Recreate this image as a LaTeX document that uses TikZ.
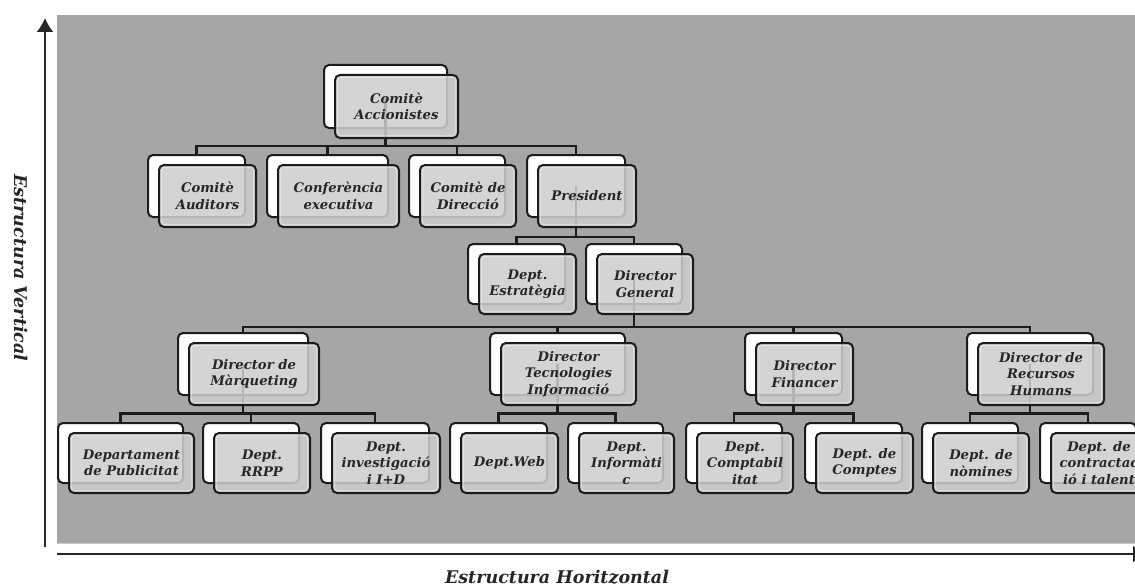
\documentclass[tikz,border=0pt]{standalone}
\usepackage{fontspec}
\setmainfont{DejaVu Serif}
\usetikzlibrary{arrows.meta,calc}
\definecolor{panelgray}{HTML}{A6A6A6}
\definecolor{boxline}{HTML}{1C1C1C}
\definecolor{frontfill}{HTML}{CDCDCD}
\definecolor{inktext}{HTML}{262626}
\tikzset{
  backbox/.style={draw=boxline, line width=2pt, rounded corners=5pt, fill=white, inner sep=0pt},
  frontbox/.style={draw=boxline, line width=2pt, rounded corners=5pt, fill=frontfill, fill opacity=0.86,
    text opacity=1, text=inktext, align=center, inner sep=0pt,
    font=\bfseries\itshape\fontsize{13.2}{16.5}\selectfont},
  innerglow/.style={draw=white, draw opacity=0.35, line width=1pt, rounded corners=3pt},
  conn/.style={draw=boxline, line width=2.2pt},
  axisline/.style={draw=black!85, line width=1.8pt},
  axislabel/.style={text=inktext, font=\bfseries\itshape\fontsize{17.5}{20}\selectfont}
}
% one organisational unit: white card behind, grey card in front
% #1 name, #2 centre x, #3 centre y, #4 width, #5 height, #6 text
\newcommand{\orgunit}[6]{%
  \node[backbox, minimum width=#4pt, minimum height=#5pt] (#1-b) at (#2,#3) {};
}
\newcommand{\orgfront}[6]{%
  \node[frontbox, minimum width=#4pt, minimum height=#5pt] (#1) at ($(#2,#3)+(11,10)$) {#6};
  \draw[innerglow] ($(#1.south west)+(3.5,-3.5)$) rectangle ($(#1.north east)+(-3.5,3.5)$);
}
\begin{document}
\begin{tikzpicture}[x=1pt, y=-1pt]
\useasboundingbox (0,0) rectangle (1135,586);
\clip (0,0) rectangle (1135,586);

% grey panel
\fill[panelgray] (57,15) rectangle (1135,543);
\draw[gray!40, line width=1pt] (57,543.5) -- (1135,543.5);

% axes
\coordinate (vbot) at (45,547);
\coordinate (vtop) at (45,18);
\coordinate (hleft) at (57,554);
\coordinate (hright) at (1147,554);
\draw[axisline, -{Latex[length=14pt, width=17pt]}] (vbot) -- (vtop);
\draw[axisline, -{Latex[length=14pt, width=17pt]}] (hleft) -- (hright);
\node[axislabel, rotate=-90] (lblv) at (21,268) {Estructura Vertical};
\node[axislabel] (lblh) at (557,577) {Estructura Horitzontal};

% unit table: name, centre x, centre y, width, height, label
\def\units{%
  \do{acc}{385.5}{96.5}{123}{63}{Comitè\\Accionistes}%
  \do{aud}{196.5}{186}{97}{62}{Comitè\\Auditors}%
  \do{conf}{327.5}{186}{121}{62}{Conferència\\executiva}%
  \do{dir}{457}{186}{96}{62}{Comitè de\\Direcció}%
  \do{pres}{576}{186}{98}{62}{President}%
  \do{estr}{516.5}{274}{97}{60}{Dept.\\Estratègia}%
  \do{dg}{634}{274}{96}{60}{Director\\General}%
  \do{mark}{243}{364}{130}{62}{Director de\\Màrqueting}%
  \do{tec}{557.5}{364}{135}{62}{Director\\Tecnologies\\Informació}%
  \do{fin}{793.5}{364}{97}{62}{Director\\Financer}%
  \do{rh}{1030}{364}{126}{62}{Director de\\Recursos\\Humans}%
  \do{pub}{120.5}{453}{125}{60}{Departament\\de Publicitat}%
  \do{rrpp}{251}{453}{96}{60}{Dept.\\RRPP}%
  \do{inv}{375}{453}{108}{60}{Dept.\\investigació\\i I+D}%
  \do{web}{498.5}{453}{97}{60}{Dept.Web}%
  \do{inf}{615.5}{453}{95}{60}{Dept.\\Informàti\\c}%
  \do{compt}{734}{453}{96}{60}{Dept.\\Comptabil\\itat}%
  \do{comptes}{853.5}{453}{97}{60}{Dept. de\\Comptes}%
  \do{nom}{970}{453}{96}{60}{Dept. de\\nòmines}%
  \do{contr}{1088}{453}{96}{60}{Dept. de\\contractac\\ió i talent}%
}

% back cards
\let\do\orgunit
\units

% connector levels
\coordinate (bus1) at (0,146);
\coordinate (bus2) at (0,237);
\coordinate (bus3) at (0,327);
\coordinate (bus4) at (0,413.5);

\foreach \c in {aud,conf,dir,pres}
  \draw[conn] (acc-b.center) -- (acc-b.center |- bus1) -| (\c-b.north);
\foreach \c in {estr,dg}
  \draw[conn] (pres-b.center) -- (pres-b.center |- bus2) -| (\c-b.north);
\foreach \c in {mark,tec,fin,rh}
  \draw[conn] (dg-b.center) -- (dg-b.center |- bus3) -| (\c-b.north);
\foreach \c in {pub,rrpp,inv}
  \draw[conn] (mark-b.center) -- (mark-b.center |- bus4) -| (\c-b.north);
\foreach \c in {web,inf}
  \draw[conn] (tec-b.center) -- (tec-b.center |- bus4) -| (\c-b.north);
\foreach \c in {compt,comptes}
  \draw[conn] (fin-b.center) -- (fin-b.center |- bus4) -| (\c-b.north);
\foreach \c in {nom,contr}
  \draw[conn] (rh-b.center) -- (rh-b.center |- bus4) -| (\c-b.north);

% front cards with their labels
\let\do\orgfront
\units
\end{tikzpicture}
\end{document}
